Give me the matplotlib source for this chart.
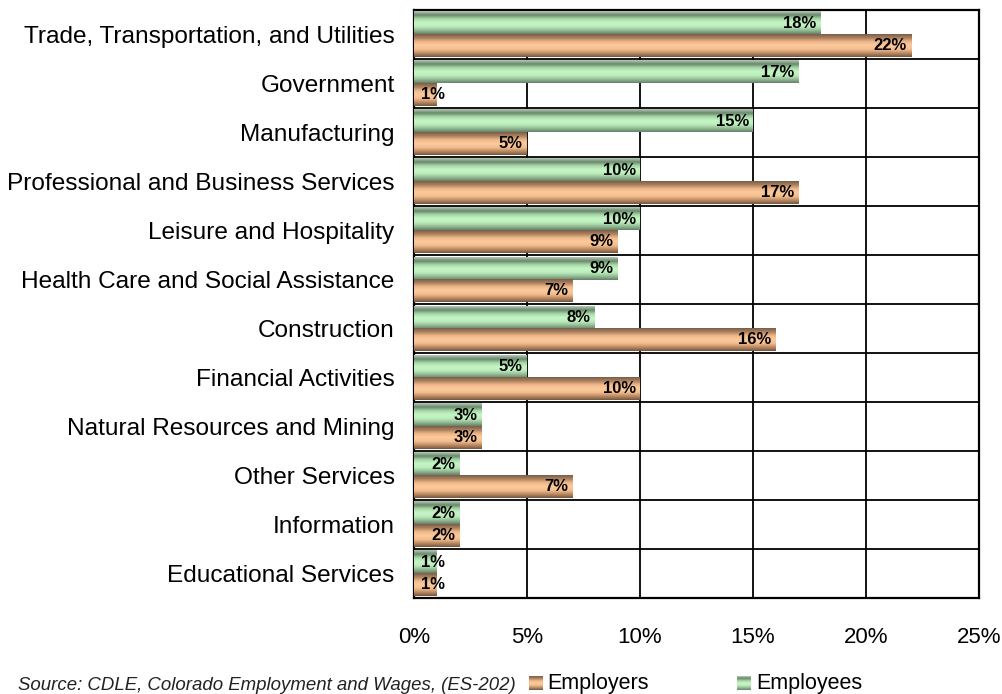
import numpy as np
import matplotlib
matplotlib.use("Agg")
import matplotlib.pyplot as plt
from matplotlib.colors import LinearSegmentedColormap

plt.rcParams['font.family'] = ['Liberation Sans', 'DejaVu Sans']

categories = [
    "Trade, Transportation, and Utilities",
    "Government",
    "Manufacturing",
    "Professional and Business Services",
    "Leisure and Hospitality",
    "Health Care and Social Assistance",
    "Construction",
    "Financial Activities",
    "Natural Resources and Mining",
    "Other Services",
    "Information",
    "Educational Services",
]
employees = [18, 17, 15, 10, 10, 9, 8, 5, 3, 2, 2, 1]
employers = [22, 1, 5, 17, 9, 7, 16, 10, 3, 7, 2, 1]
x_ticks = [0, 5, 10, 15, 20, 25]
x_tick_labels = ["0%", "5%", "10%", "15%", "20%", "25%"]
source_note = "Source: CDLE, Colorado Employment and Wages, (ES-202)"

# cylinder-like shading: dark edge -> light centre -> dark edge
green_cmap = LinearSegmentedColormap.from_list(
    "green_tube", ["#b4c8b4", "#6a876b", "#a6d8a7", "#c6f5c6", "#bdeebd", "#97c098", "#66826a"])
orange_cmap = LinearSegmentedColormap.from_list(
    "orange_tube", ["#7a5e48", "#ad825f", "#f0b88a", "#fcca9c", "#f4bd8e", "#bd8c63", "#74553e"])
shade = np.linspace(0, 1, 64).reshape(-1, 1)

fig = plt.figure(figsize=(10.02, 6.94), dpi=100)
ax = fig.add_axes([414 / 1002, 1 - 598 / 694, (979 - 414) / 1002, (598 - 10) / 694])

n = len(categories)
y = np.arange(n)
h = 0.45
bars_emp = ax.barh(y - h / 2, employees, height=h, color="none", zorder=3)
bars_er = ax.barh(y + h / 2, employers, height=h, color="none", zorder=3)

def paint(bars, cmap):
    for b in bars:
        x0, y0, w, hh = b.get_x(), b.get_y(), b.get_width(), b.get_height()
        # y axis is inverted: gradient runs from the top edge of the bar down
        ax.imshow(shade, cmap=cmap, aspect="auto", interpolation="bilinear",
                  extent=(x0, x0 + w, y0 + hh, y0), zorder=3)

paint(bars_emp, green_cmap)
paint(bars_er, orange_cmap)
ax.set_xlim(0, 25)
ax.set_ylim(n - 0.5, -0.5)

def label(bars, values):
    for b, v in zip(bars, values):
        yc = b.get_y() + b.get_height() / 2
        txt = f"{v}%"
        if v <= 1:
            ax.annotate(txt, (0, yc), xytext=(5, 0), textcoords="offset points",
                        ha="left", va="center", fontsize=12, fontweight="bold", zorder=5)
        else:
            ax.annotate(txt, (v, yc), xytext=(-3, 0), textcoords="offset points",
                        ha="right", va="center", fontsize=12, fontweight="bold", zorder=5)

label(bars_emp, employees)
label(bars_er, employers)

# grid: vertical lines at each 5%, horizontal separators between categories
for xv in x_ticks[1:-1]:
    ax.axvline(xv, color="black", lw=1.3, zorder=1)
for yv in np.arange(0.5, n - 0.5, 1):
    ax.axhline(yv, color="black", lw=1.3, zorder=1)

ax.set_xticks(x_ticks)
ax.set_xticklabels(x_tick_labels, fontsize=16)
ax.set_yticks(y)
ax.set_yticklabels(categories, fontsize=17.6)
ax.tick_params(axis="x", length=0, pad=21)
ax.tick_params(axis="y", length=0, pad=14)
for s in ax.spines.values():
    s.set_linewidth(1.6)
    s.set_color("black")

# footer: source note and legend
fig.text(18 / 1002, 1 - 685 / 694, source_note, fontsize=13.4, style="italic",
         ha="left", va="center", color="#222222")

def legend_item(x_px, text_px, cmap, text):
    lax = fig.add_axes([x_px / 1002, 1 - 690 / 694, 14 / 1002, 14 / 694])
    lax.imshow(shade, cmap=cmap, aspect="auto", interpolation="bilinear")
    lax.set_axis_off()
    fig.text(text_px / 1002, 1 - 684 / 694, text, fontsize=15.5, ha="left", va="center")

legend_item(529, 547, orange_cmap, "Employers")
legend_item(737, 756, green_cmap, "Employees")

fig.savefig("out.png", dpi=100)
